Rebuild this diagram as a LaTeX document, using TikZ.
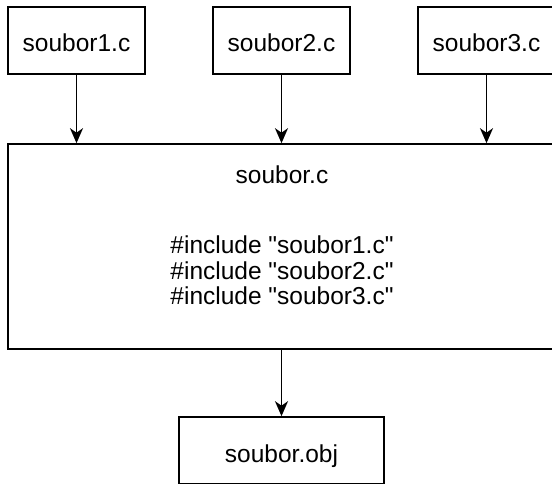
\documentclass[tikz,border=0pt]{standalone}
\usepackage{fontspec}
\setmainfont{Liberation Sans}[Ligatures=TeXOff]
\usetikzlibrary{arrows.meta}
\begin{document}
\begin{tikzpicture}[x=1pt,y=-1pt,
  box/.style={draw, line width=1.6pt, rectangle, inner sep=0pt},
  smallbox/.style={box, minimum width=137pt, minimum height=67pt},
  lbl/.style={font=\fontsize{24.5}{25}\selectfont, inner sep=0pt, anchor=base, align=center},
  arr/.style={line width=1.6pt, -{Stealth[length=15pt,width=13pt,inset=4.5pt]}}]
\useasboundingbox (0,0) rectangle (552,484);
\clip (0,0) rectangle (552,484);

% source files
\node[smallbox] (s1) at (76.5,40.5) {};
\node[lbl] (s1t) at (76.5,52) {soubor1.c};
\node[smallbox] (s2) at (281.5,40.5) {};
\node[lbl] (s2t) at (281.5,52) {soubor2.c};
\node[smallbox] (s3) at (486.5,40.5) {};
\node[lbl] (s3t) at (486.5,52) {soubor3.c};

% combined translation unit
\node[box, minimum width=548pt, minimum height=205pt] (main) at (282,246.5) {};
\node[lbl] (maint) at (282,184) {soubor.c};
\node[lbl] (inc1) at (282,254) {\#include "soubor1.c"};
\node[lbl] (inc2) at (282,279) {\#include "soubor2.c"};
\node[lbl] (inc3) at (282,304) {\#include "soubor3.c"};

% object file
\node[smallbox, minimum width=205pt] (obj) at (281.5,450.5) {};
\node[lbl] (objt) at (281.5,462) {soubor.obj};

% connectors
\draw[arr] (s1.south) -- (s1.south |- main.north);
\draw[arr] (s2.south) -- (s2.south |- main.north);
\draw[arr] (s3.south) -- (s3.south |- main.north);
\draw[arr] (obj.north |- main.south) -- (obj.north);
\end{tikzpicture}
\end{document}
